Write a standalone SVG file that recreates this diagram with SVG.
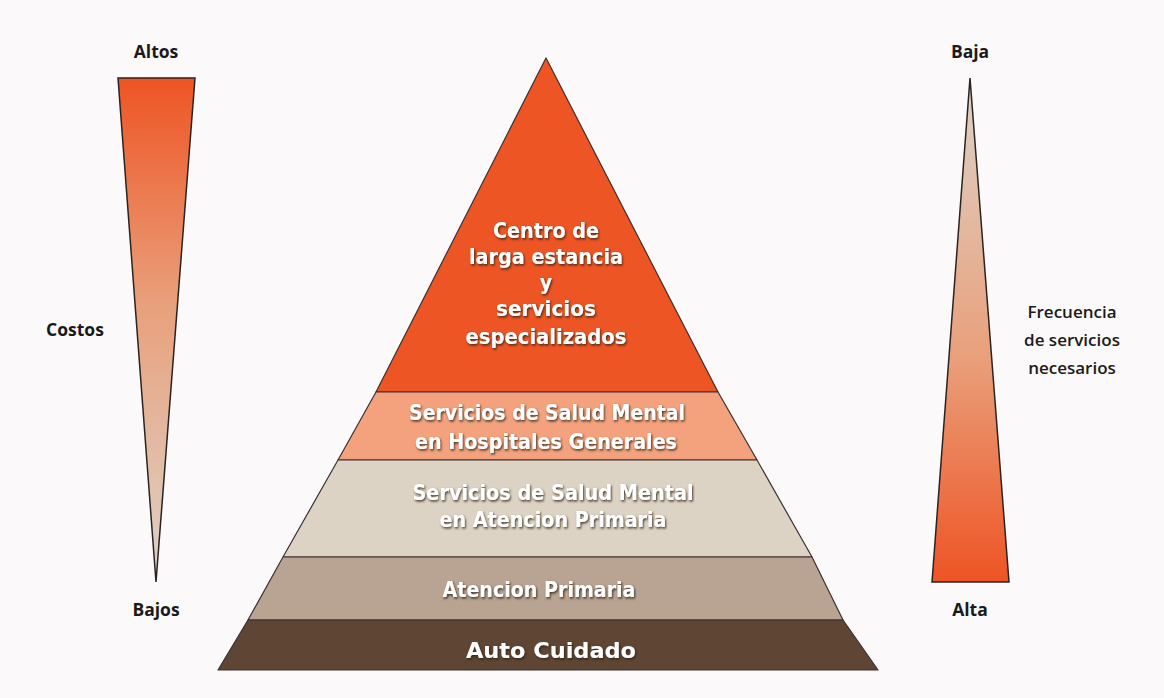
<svg xmlns="http://www.w3.org/2000/svg" width="1164" height="698" viewBox="0 0 1164 698">
<style>
.lbl{font-family:"Open Sans","Liberation Sans",sans-serif;font-weight:700;font-size:17.5px;fill:#1a1a1a;text-anchor:middle}
.lbs{font-family:"Open Sans","Liberation Sans",sans-serif;font-weight:600;font-size:17px;fill:#1a1a1a;text-anchor:middle}
.pt{font-family:"DejaVu Sans Condensed","DejaVu Sans",sans-serif;font-weight:bold;font-size:21px;fill:#ffffff;text-anchor:middle;filter:url(#sh)}
.band{stroke:#3a3030;stroke-width:1.2;stroke-linejoin:round}
.bar{stroke:#2a2320;stroke-width:1.5;stroke-linejoin:miter}
</style>
<defs>
<linearGradient id="gDown" x1="0" y1="0" x2="0" y2="1">
<stop offset="0" stop-color="#EE5424"/>
<stop offset="0.45" stop-color="#E9A07C"/>
<stop offset="1" stop-color="#DDD3C9"/>
</linearGradient>
<linearGradient id="gUp" x1="0" y1="1" x2="0" y2="0">
<stop offset="0" stop-color="#EE5424"/>
<stop offset="0.45" stop-color="#E9A07C"/>
<stop offset="1" stop-color="#DDD3C9"/>
</linearGradient>
<filter id="sh" x="-10%" y="-30%" width="120%" height="160%">
<feDropShadow dx="1" dy="1.5" stdDeviation="1.2" flood-color="#2a1a10" flood-opacity="0.85"/>
</filter>
</defs>
<rect width="1164" height="698" fill="#FBF9F9"/>

<g id="costos">
<polygon class="bar" points="118,78 195,78 156,582" fill="url(#gDown)"/>
<text class="lbl" x="156" y="58">Altos</text>
<text class="lbl" x="156" y="616">Bajos</text>
<text class="lbl" x="75" y="336">Costos</text>
</g>

<g id="frecuencia">
<polygon class="bar" points="970,78 1009,582 932,582" fill="url(#gUp)"/>
<text class="lbl" x="970" y="58">Baja</text>
<text class="lbl" x="970" y="616">Alta</text>
<text class="lbs" x="1072" y="318">Frecuencia</text>
<text class="lbs" x="1072" y="346">de servicios</text>
<text class="lbs" x="1072" y="374">necesarios</text>
</g>

<g id="nivel-especializado">
<polygon class="band" points="546,58 718,392 376,392" fill="#EE5524"/>
<text class="pt" x="546" y="238" textLength="106" lengthAdjust="spacingAndGlyphs">Centro de</text>
<text class="pt" x="546" y="264" textLength="154" lengthAdjust="spacingAndGlyphs">larga estancia</text>
<text class="pt" x="546" y="290">y</text>
<text class="pt" x="546" y="316" textLength="100" lengthAdjust="spacingAndGlyphs">servicios</text>
<text class="pt" x="546" y="344" textLength="161" lengthAdjust="spacingAndGlyphs">especializados</text>
</g>

<g id="nivel-hospitales">
<polygon class="band" points="376,392 718,392 757,460 338,460" fill="#F4A27E"/>
<text class="pt" x="547" y="420" textLength="276" lengthAdjust="spacingAndGlyphs">Servicios de Salud Mental</text>
<text class="pt" x="546" y="449" textLength="262" lengthAdjust="spacingAndGlyphs">en Hospitales Generales</text>
</g>

<g id="nivel-salud-mental-ap">
<polygon class="band" points="338,460 757,460 812,557 283,557" fill="#DDD3C5"/>
<text class="pt" x="553" y="500" textLength="281" lengthAdjust="spacingAndGlyphs">Servicios de Salud Mental</text>
<text class="pt" x="553" y="527" textLength="227" lengthAdjust="spacingAndGlyphs">en Atencion Primaria</text>
</g>

<g id="nivel-atencion-primaria">
<polygon class="band" points="283,557 812,557 843,620 248,620" fill="#B9A392"/>
<text class="pt" x="539" y="597" textLength="193" lengthAdjust="spacingAndGlyphs">Atencion Primaria</text>
</g>

<g id="nivel-auto-cuidado">
<polygon class="band" points="248,620 843,620 878,670 218,670" fill="#5F4634"/>
<text class="pt" x="551" y="658" textLength="170" lengthAdjust="spacingAndGlyphs">Auto Cuidado</text>
</g>

<g id="connectors"></g>
</svg>
